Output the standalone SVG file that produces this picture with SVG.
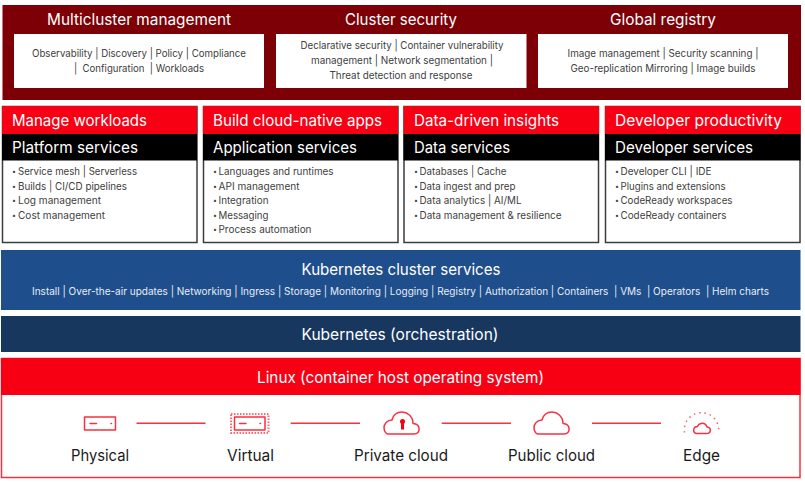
<svg xmlns="http://www.w3.org/2000/svg" width="805" height="487" viewBox="0 0 805 487">
<defs>
<style>
text{font-family:"Inter","Open Sans","Liberation Sans",sans-serif}
.h{font-size:16px;fill:#fff}
.b{font-size:10.500px;fill:#404040}
.d{font-size:7px;fill:#404040}
.m{text-anchor:middle}
.s{font-size:10.500px;fill:#e6edf5}
.l{font-size:16px;fill:#1a1a1a}
.w{fill:#fff}
.ci{fill:none;stroke:#f9303f;stroke-width:1.500;stroke-linecap:round;stroke-linejoin:round}
.card{fill:#fff;stroke:#3c3c3c;stroke-width:1.500}
.red{fill:#f70014}
.blk{fill:#000}
</style>
<path id="cloud" d="M-13 11H13C20 11 20 1 12 0.500C12-7 6-11 1-11C-5-11-8-7-9-3C-14-3-17 1-17 4.500C-17 8-15 11-13 11Z" class="ci"/>
</defs>
<rect width="805" height="487" fill="#fff"/>
<g id="top-band">
<rect x="2.500" y="5" width="798.500" height="95" fill="#7d0006"/>
</g>
<g id="multicluster">
<rect x="14" y="34" width="250" height="54" class="w"/>
<text x="139" y="25" class="h m" textLength="184" lengthAdjust="spacingAndGlyphs">Multicluster management</text>
<text x="139" y="57" class="b m" textLength="214" lengthAdjust="spacingAndGlyphs">Observability | Discovery | Policy | Compliance</text>
<text x="139" y="71.500" class="b m" textLength="130" lengthAdjust="spacingAndGlyphs" xml:space="preserve">|  Configuration  | Workloads</text>
</g>
<g id="cluster-security">
<rect x="276" y="34" width="250.500" height="54" class="w"/>
<text x="401" y="25" class="h m" textLength="112" lengthAdjust="spacingAndGlyphs">Cluster security</text>
<text x="402" y="49" class="b m" textLength="203" lengthAdjust="spacingAndGlyphs">Declarative security | Container vulnerability</text>
<text x="402" y="64" class="b m" textLength="182" lengthAdjust="spacingAndGlyphs">management | Network segmentation |</text>
<text x="401" y="78.500" class="b m" textLength="143" lengthAdjust="spacingAndGlyphs">Threat detection and response</text>
</g>
<g id="global-registry">
<rect x="538" y="34" width="250" height="54" class="w"/>
<text x="663" y="25" class="h m" textLength="106" lengthAdjust="spacingAndGlyphs">Global registry</text>
<text x="663" y="57" class="b m" textLength="191" lengthAdjust="spacingAndGlyphs">Image management | Security scanning  |</text>
<text x="663" y="71.500" class="b m" textLength="185" lengthAdjust="spacingAndGlyphs">Geo-replication Mirroring | Image builds</text>
</g>
<g id="platform-services">
<rect x="2.500" y="106.500" width="194.500" height="136" class="card"/>
<rect x="2" y="106" width="195" height="28" class="red"/>
<rect x="2" y="134" width="195" height="26.500" class="blk"/>
<text x="12" y="125.500" class="h" textLength="135" lengthAdjust="spacingAndGlyphs">Manage workloads</text>
<text x="12" y="152.500" class="h" textLength="126" lengthAdjust="spacingAndGlyphs">Platform services</text>
<g class="d"><text x="12" y="174" class="d">•</text><text x="12" y="188.500" class="d">•</text><text x="12" y="203" class="d">•</text><text x="12" y="217.500" class="d">•</text></g>
<text x="18" y="175" class="b" textLength="119" lengthAdjust="spacingAndGlyphs">Service mesh | Serverless</text>
<text x="18" y="189.500" class="b" textLength="109" lengthAdjust="spacingAndGlyphs">Builds | CI/CD pipelines</text>
<text x="18" y="204" class="b" textLength="83" lengthAdjust="spacingAndGlyphs">Log management</text>
<text x="18" y="218.500" class="b" textLength="87" lengthAdjust="spacingAndGlyphs">Cost management</text>
</g>
<g id="application-services">
<rect x="203.500" y="106.500" width="194.500" height="136" class="card"/>
<rect x="203" y="106" width="195" height="28" class="red"/>
<rect x="203" y="134" width="195" height="26.500" class="blk"/>
<text x="213" y="125.500" class="h" textLength="169" lengthAdjust="spacingAndGlyphs">Build cloud-native apps</text>
<text x="213" y="152.500" class="h" textLength="144" lengthAdjust="spacingAndGlyphs">Application services</text>
<text x="213" y="174" class="d">•</text><text x="213" y="188.500" class="d">•</text><text x="213" y="203" class="d">•</text><text x="213" y="217.500" class="d">•</text><text x="213" y="232" class="d">•</text>
<text x="218.500" y="175" class="b" textLength="115" lengthAdjust="spacingAndGlyphs">Languages and runtimes</text>
<text x="218.500" y="189.500" class="b" textLength="81" lengthAdjust="spacingAndGlyphs">API management</text>
<text x="218.500" y="204" class="b" textLength="50" lengthAdjust="spacingAndGlyphs">Integration</text>
<text x="218.500" y="218.500" class="b" textLength="50" lengthAdjust="spacingAndGlyphs">Messaging</text>
<text x="218.500" y="233" class="b" textLength="93" lengthAdjust="spacingAndGlyphs">Process automation</text>
</g>
<g id="data-services">
<rect x="404" y="106.500" width="194.500" height="136" class="card"/>
<rect x="403.500" y="106" width="195.500" height="28" class="red"/>
<rect x="403.500" y="134" width="195.500" height="26.500" class="blk"/>
<text x="414" y="125.500" class="h" textLength="145" lengthAdjust="spacingAndGlyphs">Data-driven insights</text>
<text x="414" y="152.500" class="h" textLength="96" lengthAdjust="spacingAndGlyphs">Data services</text>
<text x="414" y="174" class="d">•</text><text x="414" y="188.500" class="d">•</text><text x="414" y="203" class="d">•</text><text x="414" y="217.500" class="d">•</text>
<text x="419.500" y="175" class="b" textLength="87" lengthAdjust="spacingAndGlyphs">Databases | Cache</text>
<text x="419.500" y="189.500" class="b" textLength="96" lengthAdjust="spacingAndGlyphs">Data ingest and prep</text>
<text x="419.500" y="204" class="b" textLength="102" lengthAdjust="spacingAndGlyphs">Data analytics | AI/ML</text>
<text x="419.500" y="218.500" class="b" textLength="142" lengthAdjust="spacingAndGlyphs">Data management &amp; resilience</text>
</g>
<g id="developer-services">
<rect x="605.500" y="106.500" width="194.500" height="136" class="card"/>
<rect x="605" y="106" width="195.500" height="28" class="red"/>
<rect x="605" y="134" width="195.500" height="26.500" class="blk"/>
<text x="615" y="125.500" class="h" textLength="167" lengthAdjust="spacingAndGlyphs">Developer productivity</text>
<text x="615" y="152.500" class="h" textLength="138" lengthAdjust="spacingAndGlyphs">Developer services</text>
<text x="615" y="174" class="d">•</text><text x="615" y="188.500" class="d">•</text><text x="615" y="203" class="d">•</text><text x="615" y="217.500" class="d">•</text>
<text x="620.500" y="175" class="b" textLength="91" lengthAdjust="spacingAndGlyphs">Developer CLI | IDE</text>
<text x="620.500" y="189.500" class="b" textLength="105" lengthAdjust="spacingAndGlyphs">Plugins and extensions</text>
<text x="620.500" y="204" class="b" textLength="112" lengthAdjust="spacingAndGlyphs">CodeReady workspaces</text>
<text x="620.500" y="218.500" class="b" textLength="106" lengthAdjust="spacingAndGlyphs">CodeReady containers</text>
</g>
<g id="kubernetes-cluster-services">
<rect x="1" y="250" width="799.500" height="60" fill="#1f4e8c"/>
<text x="401" y="275" class="h m" textLength="199" lengthAdjust="spacingAndGlyphs">Kubernetes cluster services</text>
<text x="32" y="295" class="s" textLength="737" lengthAdjust="spacingAndGlyphs" xml:space="preserve">Install | Over-the-air updates | Networking | Ingress | Storage | Monitoring | Logging | Registry | Authorization | Containers  | VMs  | Operators  | Helm charts</text>
</g>
<g id="kubernetes-orchestration">
<rect x="1" y="316" width="799.500" height="36" fill="#17375f"/>
<text x="400" y="339.500" class="h m" textLength="197" lengthAdjust="spacingAndGlyphs">Kubernetes (orchestration)</text>
</g>
<g id="linux">
<rect x="1.500" y="358.500" width="798.500" height="119" fill="#fff" stroke="#f7303f" stroke-width="1.500"/>
<rect x="1" y="358" width="799.500" height="37" class="red"/>
<text x="400.500" y="383" class="h m" textLength="287" lengthAdjust="spacingAndGlyphs">Linux (container host operating system)</text>
</g>
<g id="physical">
<rect x="84.500" y="417" width="31" height="13" class="ci"/>
<path d="M90 423.500H96.500M111 423.500h.5" class="ci"/>
<text x="100" y="461" class="l m" textLength="58" lengthAdjust="spacingAndGlyphs">Physical</text>
</g>
<g id="virtual">
<rect x="234.500" y="417" width="30.500" height="13" class="ci"/>
<path d="M239.500 423.500H246M260 423.500h.5" class="ci"/>
<rect x="231" y="414" width="37.500" height="19" fill="none" stroke="#fa6a74" stroke-width="2" stroke-dasharray="1.500 1.500"/>
<text x="250.500" y="461" class="l m" textLength="47" lengthAdjust="spacingAndGlyphs">Virtual</text>
</g>
<g id="private-cloud">
<use href="#cloud" x="401" y="423"/>
<circle cx="402.500" cy="421.500" r="2.500" fill="#f70014"/>
<rect x="401" y="421.500" width="3" height="8" fill="#f70014"/>
<text x="401" y="461" class="l m" textLength="94" lengthAdjust="spacingAndGlyphs">Private cloud</text>
</g>
<g id="public-cloud">
<use href="#cloud" x="551" y="423"/>
<text x="551.500" y="461" class="l m" textLength="87" lengthAdjust="spacingAndGlyphs">Public cloud</text>
</g>
<g id="edge">
<path d="M697 433.500H706.500C711.500 433.500 711.500 427.500 707 427C706 424.500 703.500 423 701 423.500C699 423.800 698 425 697.500 426.500C693 426.500 692 433.500 697 433.500Z" class="ci"/>
<path d="M684.500 432.500A17.200 17.200 0 1 1 718.500 432.500" fill="none" stroke="#fa5a66" stroke-width="1.500" stroke-dasharray="1.500 3.900"/>
<text x="701.500" y="461" class="l m" textLength="37" lengthAdjust="spacingAndGlyphs">Edge</text>
</g>
<g id="connectors" stroke="#f9303f" stroke-width="1.500" fill="none">
<path d="M136.500 423.300H205.500"/>
<path d="M290.700 423.300H360"/>
<path d="M441.700 423.300H511"/>
<path d="M592 423.300H661"/>
</g>
</svg>
